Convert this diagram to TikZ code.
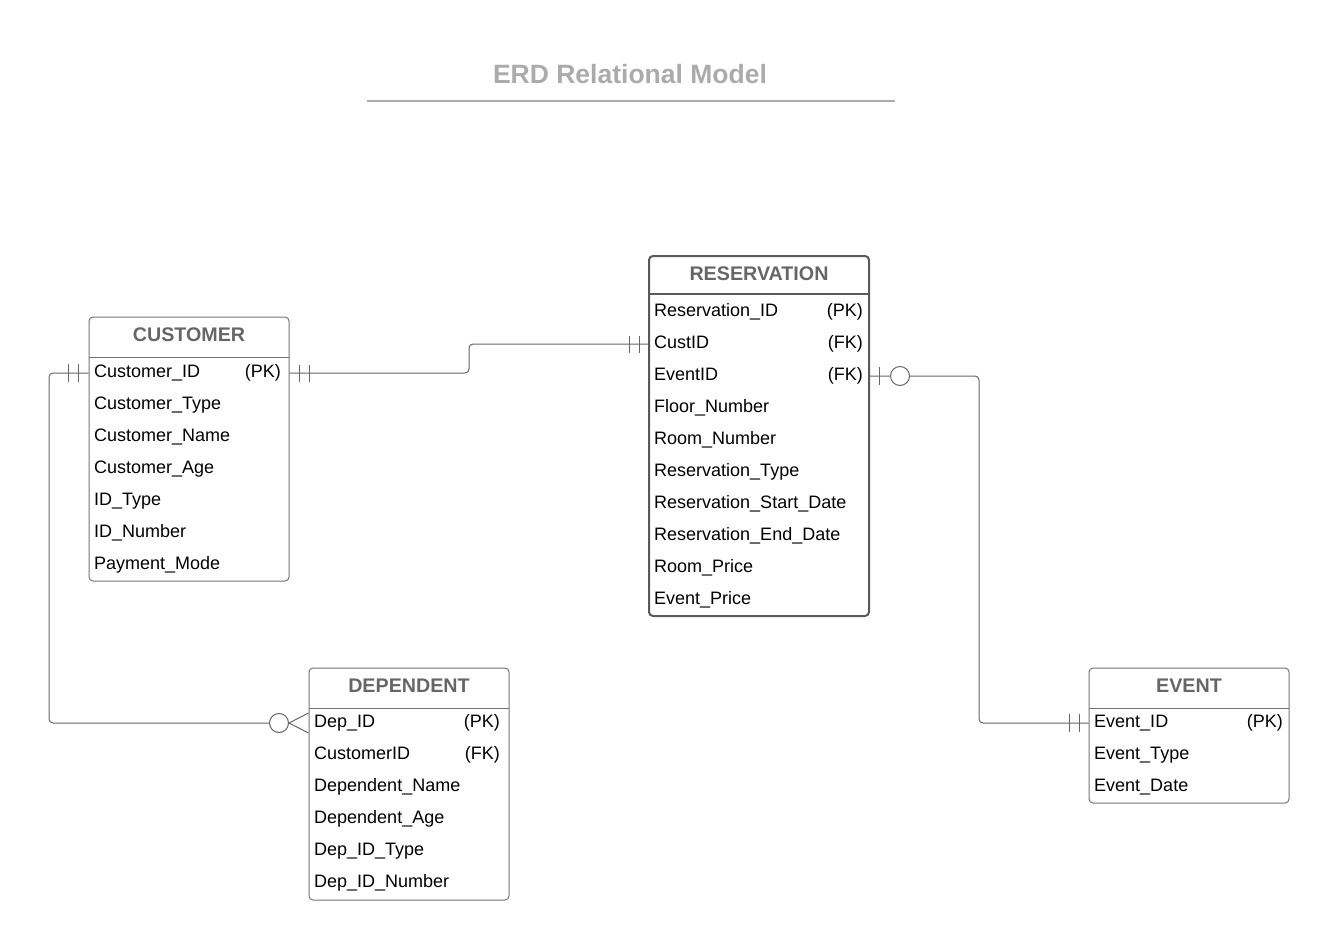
\documentclass[tikz,border=0pt]{standalone}
\usepackage{fontspec}
\setmainfont{Liberation Sans}
\begin{document}
\begin{tikzpicture}[x=1pt,y=-1pt,
 tbl/.style={draw=black!55, rounded corners=4pt, line width=1pt, inner sep=0pt},
 tblbold/.style={draw=black!65, rounded corners=4pt, line width=2pt, inner sep=0pt},
 sep/.style={draw=black!55, line width=1pt},
 hdr/.style={font=\fontsize{19.7}{22}\selectfont\bfseries, text=black!60, anchor=base, inner sep=0pt},
 row/.style={font=\fontsize{18}{20}\selectfont, anchor=base west, inner sep=0pt},
 keyr/.style={font=\fontsize{18}{20}\selectfont, anchor=base east, inner sep=0pt},
 conn/.style={draw=black!60, line width=1pt, rounded corners=4pt},
 tick/.style={draw=black!60, line width=1pt},
 ring/.style={draw=black!60, line width=1pt, fill=white, circle, inner sep=0pt, minimum size=19pt}
]
\useasboundingbox (0,0) rectangle (1328,936);

% title
\node[font=\fontsize{26.5}{30}\selectfont\bfseries, text=black!33, anchor=base, inner sep=0pt] (title) at (630,84) {ERD Relational Model};
\draw[draw=black!33, line width=2pt] (367,101) -- (895,101);

% CUSTOMER
\node[tbl, minimum width=200pt, minimum height=264pt] (cust) at (189,449) {};
\draw[sep] (89,357) -- (289,357);
\node[hdr] (custh) at (189,341) {CUSTOMER};
\node[row] (c1) at (94,377) {Customer\_ID};
\node[keyr] (c1k) at (281,377) {(PK)};
\node[row] (c2) at (94,409) {Customer\_Type};
\node[row] (c3) at (94,441) {Customer\_Name};
\node[row] (c4) at (94,473) {Customer\_Age};
\node[row] (c5) at (94,505) {ID\_Type};
\node[row] (c6) at (94,537) {ID\_Number};
\node[row] (c7) at (94,569) {Payment\_Mode};

% RESERVATION
\node[tblbold, minimum width=220pt, minimum height=360pt] (res) at (759,436) {};
\draw[draw=black!65, line width=2pt] (649,294) -- (869,294);
\node[hdr] (resh) at (759,280) {RESERVATION};
\node[row] (r1) at (654,316) {Reservation\_ID};
\node[keyr] (r1k) at (863,316) {(PK)};
\node[row] (r2) at (654,348) {CustID};
\node[keyr] (r2k) at (863,348) {(FK)};
\node[row] (r3) at (654,380) {EventID};
\node[keyr] (r3k) at (863,380) {(FK)};
\node[row] (r4) at (654,412) {Floor\_Number};
\node[row] (r5) at (654,444) {Room\_Number};
\node[row] (r6) at (654,476) {Reservation\_Type};
\node[row] (r7) at (654,508) {Reservation\_Start\_Date};
\node[row] (r8) at (654,540) {Reservation\_End\_Date};
\node[row] (r9) at (654,572) {Room\_Price};
\node[row] (r10) at (654,604) {Event\_Price};

% DEPENDENT
\node[tbl, minimum width=200pt, minimum height=232pt] (dep) at (409,784) {};
\draw[sep] (309,708) -- (509,708);
\node[hdr] (deph) at (409,692) {DEPENDENT};
\node[row] (d1) at (314,727) {Dep\_ID};
\node[keyr] (d1k) at (500,727) {(PK)};
\node[row] (d2) at (314,759) {CustomerID};
\node[keyr] (d2k) at (500,759) {(FK)};
\node[row] (d3) at (314,791) {Dependent\_Name};
\node[row] (d4) at (314,823) {Dependent\_Age};
\node[row] (d5) at (314,855) {Dep\_ID\_Type};
\node[row] (d6) at (314,887) {Dep\_ID\_Number};

% EVENT
\node[tbl, minimum width=200pt, minimum height=135pt] (ev) at (1189,735.5) {};
\draw[sep] (1089,708) -- (1289,708);
\node[hdr] (evh) at (1189,692) {EVENT};
\node[row] (e1) at (1094,727) {Event\_ID};
\node[keyr] (e1k) at (1283,727) {(PK)};
\node[row] (e2) at (1094,759) {Event\_Type};
\node[row] (e3) at (1094,791) {Event\_Date};

% Customer -- Reservation (one-and-only-one both ends)
\draw[conn] (cust.east |- 0,373) -- (469,373) -- (469,344) -- (res.west |- 0,344);
\draw[tick] (299,365) -- (299,382);
\draw[tick] (309,365) -- (309,382);
\draw[tick] (629,336) -- (629,353);
\draw[tick] (639,336) -- (639,353);

% Customer -- Dependent (one to zero-or-many)
\draw[conn] (cust.west |- 0,373) -- (49,373) -- (49,723) -- (270,723);
\draw[tick] (68,364) -- (68,382);
\draw[tick] (78,364) -- (78,382);
\node[ring] (o1) at (279,723) {};
\draw[tick] (o1.east) -- (dep.west |- 0,713);
\draw[tick] (o1.east) -- (dep.west |- 0,733);

% Reservation -- Event (zero-or-one to one)
\draw[conn] (res.east |- 0,376) -- (979,376) -- (979,723) -- (ev.west |- 0,723);
\draw[tick] (879,367) -- (879,385);
\node[ring] (o2) at (900,376) {};
\draw[tick] (1069,714) -- (1069,732);
\draw[tick] (1079,714) -- (1079,732);
\end{tikzpicture}
\end{document}
